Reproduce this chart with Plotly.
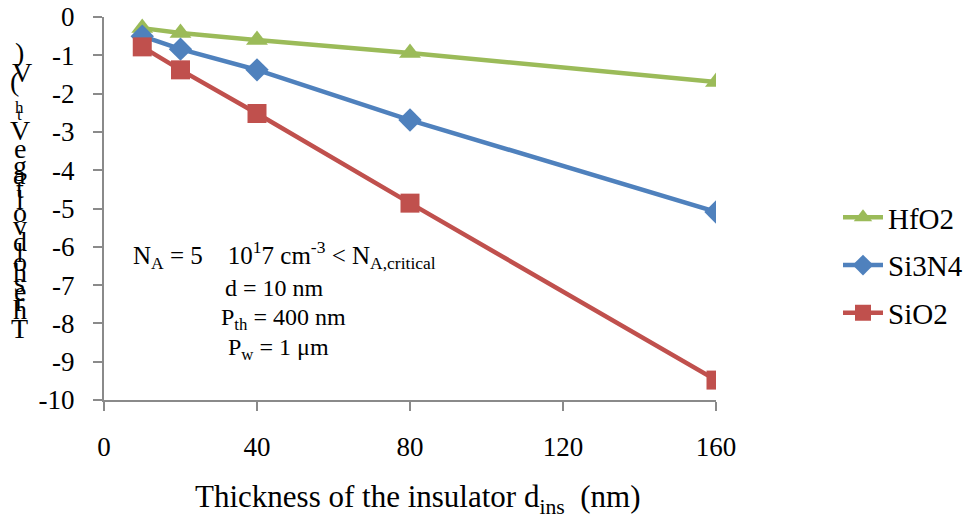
import plotly.graph_objects as go

thickness = [10, 20, 40, 80, 160]
hfo2 = [-0.29, -0.42, -0.6, -0.94, -1.7]
si3n4 = [-0.5, -0.84, -1.38, -2.69, -5.09]
sio2 = [-0.78, -1.38, -2.52, -4.86, -9.48]

series_names = ["HfO2", "Si3N4", "SiO2"]
series_values = [hfo2, si3n4, sio2]
colors = ["#9BBB59", "#4F81BD", "#C0504D"]
symbols = ["triangle-up", "diamond", "square"]
sizes = [19, 18, 19]

x_ticks = [0, 40, 80, 120, 160]
x_labels = ["0", "40", "80", "120", "160"]
y_ticks = [0, -1, -2, -3, -4, -5, -6, -7, -8, -9, -10]
y_labels = ["0", "-1", "-2", "-3", "-4", "-5", "-6", "-7", "-8", "-9", "-10"]

FONT = "Liberation Serif, Times New Roman, serif"
W, H = 968, 519
L, R, T, B = 104, 252, 17, 119
PW, PH = W - L - R, H - T - B

fig = go.Figure()
for i, (name, vals) in enumerate(zip(series_names, series_values)):
    fig.add_trace(go.Scatter(
        x=thickness, y=vals, name=name, mode="lines+markers",
        legendgroup=name,
        line=dict(color=colors[i], width=4.5),
        marker=dict(symbol=symbols[i], size=sizes[i], color=colors[i],
                    line=dict(width=0)),
    ))

axis_col = "#8A8A8A"
fig.update_xaxes(range=[0, 160], tickvals=x_ticks, ticktext=x_labels,
                 showgrid=False, zeroline=False, automargin=False,
                 showline=True, linecolor=axis_col, linewidth=2,
                 ticks="outside", ticklen=9, tickwidth=2, tickcolor=axis_col,
                 ticklabelstandoff=13,
                 tickfont=dict(family=FONT, size=27, color="black"))
fig.update_yaxes(range=[-10, 0], tickvals=y_ticks, ticktext=y_labels,
                 showgrid=False, zeroline=False, automargin=False,
                 showline=True, linecolor=axis_col, linewidth=2,
                 ticks="outside", ticklen=9, tickwidth=2, tickcolor=axis_col,
                 ticklabelstandoff=13,
                 tickfont=dict(family=FONT, size=27, color="black"))

def px_to_paper(xp, yp):
    return (xp - L) / PW, (H - B - yp) / PH

annotations = []
# x-axis title
ax, ay = px_to_paper(417, 499)
annotations.append(dict(x=ax, y=ay, xref="paper", yref="paper", showarrow=False,
                        text="Thickness of the insulator d<sub>ins</sub>&nbsp; (nm)",
                        font=dict(family=FONT, size=31, color="black"),
                        xanchor="center", yanchor="middle"))

# y-axis title, drawn as a stacked column of characters (as in the original)
ytitle_chars = [")", "V", "(", "h", "t", "V", "e", "g", "a", "t", "l", "o", "v",
                "d", "l", "o", "h", "s", "e", "r", "h", "T"]
ytitle_ypx = [52, 72, 82, 108, 114, 130, 149, 165, 175, 188, 199, 212, 225,
              242, 252, 261, 272, 283, 291, 301, 309, 328]
ytitle_xpx = [20, 22, 14, 20, 20, 20, 20, 20, 20, 20, 20, 20, 20,
              20, 20, 20, 20, 20, 20, 20, 20, 20]
for i, ch in enumerate(ytitle_chars):
    small = i in (3, 4)
    cx, cy = px_to_paper(ytitle_xpx[i], ytitle_ypx[i])
    annotations.append(dict(x=cx, y=cy, xref="paper", yref="paper", showarrow=False,
                            text=ch, font=dict(family=FONT, size=17 if small else 28,
                                               color="black"),
                            xanchor="center", yanchor="middle"))

# parameter text box
param_lines = [
    "N<sub>A</sub> = 5&nbsp;&nbsp;&nbsp; 10<sup>1</sup>7 cm<sup>-3</sup> &lt; N<sub>A,critical</sub>",
    "d = 10 nm",
    "P<sub>th</sub> = 400 nm",
    "P<sub>w</sub> = 1 \u03bcm",
]
param_sizes = [25, 24, 24, 24]
param_pos = [(284, 255), (274, 288), (283, 319), (278, 349)]
for txt, fs, (xp, yp) in zip(param_lines, param_sizes, param_pos):
    px_, py_ = px_to_paper(xp, yp)
    annotations.append(dict(x=px_, y=py_, xref="paper", yref="paper", showarrow=False,
                            text=txt, font=dict(family=FONT, size=fs, color="black"),
                            xanchor="center", yanchor="middle"))

lx, ly = px_to_paper(838, 192)
fig.update_layout(
    width=W, height=H,
    margin=dict(l=L, r=R, t=T, b=B, autoexpand=False),
    font=dict(family=FONT, color="black"),
    paper_bgcolor="white", plot_bgcolor="white",
    annotations=annotations,
    showlegend=True,
    legend=dict(x=lx, y=ly, xref="paper", yref="paper", xanchor="left", yanchor="top",
                font=dict(family=FONT, size=29, color="black"),
                tracegroupgap=7, bgcolor="rgba(0,0,0,0)", itemwidth=40),
)

fig.write_html("out.html", config={"displayModeBar": False},
               post_script="document.body.style.margin='0px';")
